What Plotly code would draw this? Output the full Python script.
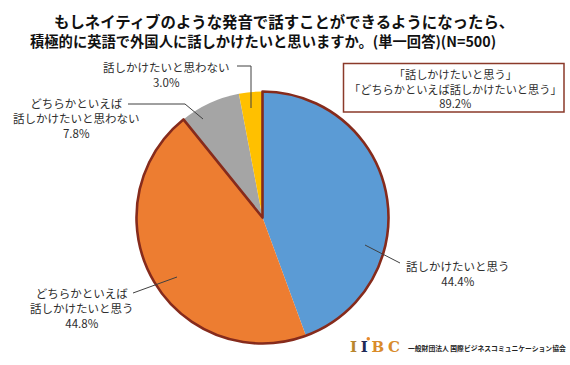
import plotly.graph_objects as go

W, H = 570, 365

# ---- data ----
labels = ["話しかけたいと思う", "どちらかといえば話しかけたいと思う",
          "どちらかといえば話しかけたいと思わない", "話しかけたいと思わない"]
values = [44.4, 44.8, 7.8, 3.0]
colors = ["#5B9BD5", "#ED7D31", "#A5A5A5", "#FFC000"]
group_labels = ["話しかけたい(計)", "その他"]
group_values = [values[0] + values[1], values[2] + values[3]]

title_lines = ["もしネイティブのような発音で話すことができるようになったら、",
               "積極的に英語で外国人に話しかけたいと思いますか。(単一回答)(N=500)"]
box_lines = ["「話しかけたいと思う」", "「どちらかといえば話しかけたいと思う」",
             f"{group_values[0]:.1f}%"]


def px(x):
    return x / W


def py(y):
    return 1 - y / H


FONT = "Noto Sans CJK JP"
TXT = "#2e2e2e"
OUTLINE = "#862B1C"

cx, cy, r = 262.5, 217.5, 126
dom = dict(x=[px(cx - r), px(cx + r)], y=[py(cy + r), py(cy - r)])

fig = go.Figure()
fig.add_trace(go.Pie(
    labels=labels, values=values, sort=False, direction="clockwise", rotation=0,
    marker=dict(colors=colors, line=dict(width=0)),
    textinfo="none", domain=dom, showlegend=False, hoverinfo="label+percent"))
fig.add_trace(go.Pie(
    labels=group_labels, values=group_values, sort=False, direction="clockwise", rotation=0,
    marker=dict(colors=["rgba(0,0,0,0)", "rgba(0,0,0,0)"],
                line=dict(color=[OUTLINE, "rgba(0,0,0,0)"], width=[2.6, 0])),
    textinfo="none", domain=dom, showlegend=False, hoverinfo="skip"))

ann = []


def text(x, y, s, size=11.5, color=TXT, bold=False, family=FONT, xanchor="center"):
    ann.append(dict(x=px(x), y=py(y), xref="paper", yref="paper", text=(f"<b>{s}</b>" if bold else s),
                    showarrow=False, xanchor=xanchor, yanchor="middle", align="center",
                    font=dict(family=family, size=size, color=color)))


# title
text(284, 21, title_lines[0], size=15.4, color="#111111", bold=True)
text(263, 41, title_lines[1], size=14.3, color="#111111", bold=True)

# slice labels
text(458, 273, labels[0] + "<br>" + f"{values[0]:.1f}%")
text(82, 308, "どちらかといえば<br>話しかけたいと思う<br>" + f"{values[1]:.1f}%")
text(76, 118, "どちらかといえば<br>話しかけたいと思わない<br>" + f"{values[2]:.1f}%")
text(166, 75, labels[3] + "<br>" + f"{values[3]:.1f}%")

# summary box
text(455, 88, "<br>".join(box_lines), size=11.2)

# logo
SER = "DejaVu Serif"
text(375, 347, "", size=15, bold=True, family=SER)
ann[-1]["text"] = ("<b><span style='color:#B8862E'>I</span>&#8197;"
                   "<span style='color:#1F2A56'>I</span>&#8197;"
                   "<span style='color:#D98B2B'>B</span>&#8197;"
                   "<span style='color:#D98B2B'>C</span></b>")
text(406, 348, "一般財団法人 国際ビジネスコミュニケーション協会", size=6.8, color="#222222",
     bold=True, xanchor="left")

shapes = []


def line(pts):
    for (x0, y0), (x1, y1) in zip(pts[:-1], pts[1:]):
        shapes.append(dict(type="line", xref="paper", yref="paper",
                           x0=px(x0), y0=py(y0), x1=px(x1), y1=py(y1),
                           line=dict(color="#404040", width=1)))


line([(365, 245), (400, 263)])
line([(177, 277), (133, 293)])
line([(237, 66), (251, 66), (251, 108)])
line([(128, 104), (185, 104), (203, 119)])

shapes.append(dict(type="rect", xref="paper", yref="paper",
                   x0=px(343.5), x1=px(564), y0=py(112), y1=py(63.5),
                   line=dict(color="#8B3A2A", width=1.5), fillcolor="white", layer="below"))
# dot of the logo's second "I"
shapes.append(dict(type="circle", xref="paper", yref="paper",
                   x0=px(366.5), x1=px(370), y0=py(340.5), y1=py(337),
                   line=dict(width=0), fillcolor="#E8892B"))

fig.update_layout(width=W, height=H, margin=dict(l=0, r=0, t=0, b=0),
                  paper_bgcolor="white", plot_bgcolor="white",
                  annotations=ann, shapes=shapes)
fig.write_html("out.html", config={"displayModeBar": False},
               post_script="document.body.style.margin='0px';")
